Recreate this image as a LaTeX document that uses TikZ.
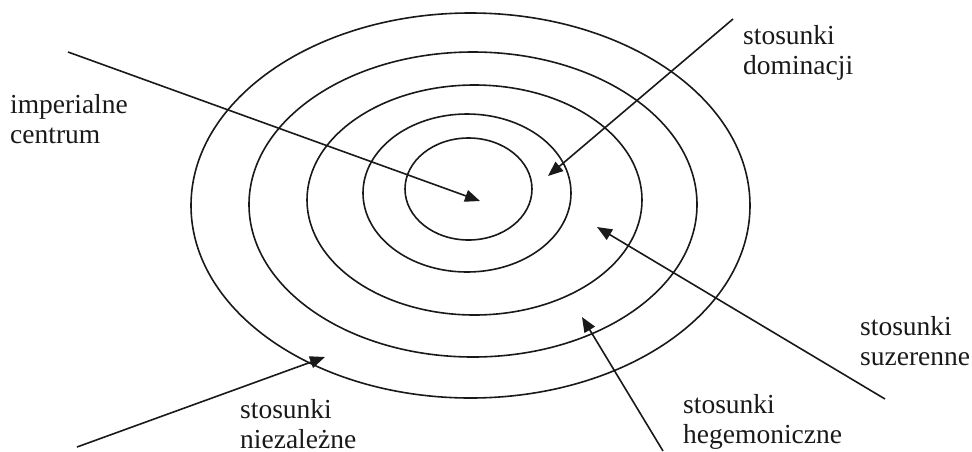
\documentclass[tikz,border=0pt]{standalone}
\usepackage{fontspec}
\setmainfont{Liberation Serif}
\usetikzlibrary{arrows.meta}
\begin{document}
\begin{tikzpicture}[x=1pt,y=-1pt,
  ring/.style={draw=black!90,line width=1.6pt},
  pointer/.style={draw=black!90,line width=1.6pt,-{Triangle[length=15pt,width=12pt]}},
  lbl/.style={inner sep=0pt,anchor=base west,align=left,font=\fontsize{27.5}{30}\selectfont,text=black!90}]
\useasboundingbox (0,0) rectangle (972,451);
% rings
\draw[ring] (470.5,205.5) ellipse [x radius=279.5pt, y radius=192.5pt];
\draw[ring] (473,204.5) ellipse [x radius=224pt, y radius=152.5pt];
\draw[ring] (474.5,200) ellipse [x radius=167.5pt, y radius=115pt];
\draw[ring] (467,193) ellipse [x radius=104pt, y radius=79pt];
\draw[ring] (468.5,189) ellipse [x radius=63.5pt, y radius=51pt];
% labels (anchor = baseline of the last line)
\node[lbl] (imp) at (10,143) {imperialne\\centrum};
\node[lbl] (dom) at (743,74) {stosunki\\dominacji};
\node[lbl] (suz) at (860,365) {stosunki\\suzerenne};
\node[lbl] (heg) at (683,443) {stosunki\\hegemoniczne};
\node[lbl] (nie) at (240,448) {stosunki\\niezależne};
% arrow ends
\coordinate (impS) at (68,52);   \coordinate (impT) at (480,201);
\coordinate (domS) at (733,19);  \coordinate (domT) at (548,176);
\coordinate (suzS) at (885,399); \coordinate (suzT) at (597,227);
\coordinate (hegS) at (663,451); \coordinate (hegT) at (582,317);
\coordinate (nieS) at (77,447);  \coordinate (nieT) at (325,357);
\draw[pointer] (impS) -- (impT);
\draw[pointer] (domS) -- (domT);
\draw[pointer] (suzS) -- (suzT);
\draw[pointer] (hegS) -- (hegT);
\draw[pointer] (nieS) -- (nieT);
\end{tikzpicture}
\end{document}
